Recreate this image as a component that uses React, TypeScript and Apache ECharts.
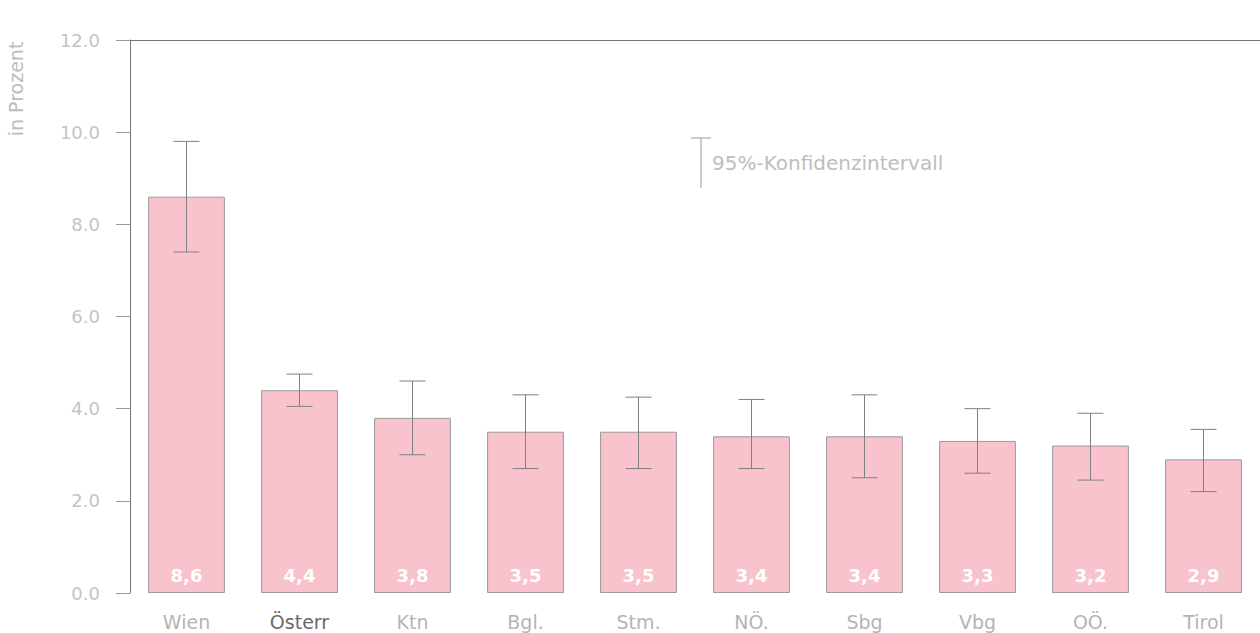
import React, { useEffect, useRef } from "react";
import * as echarts from "echarts";

const categories = ["Wien", "Österr", "Ktn", "Bgl.", "Stm.", "NÖ.", "Sbg", "Vbg", "OÖ.", "Tirol"];
const values = [8.6, 4.4, 3.8, 3.5, 3.5, 3.4, 3.4, 3.3, 3.2, 2.9];
const ciLow = [7.4, 4.05, 3.0, 2.7, 2.7, 2.7, 2.5, 2.6, 2.45, 2.2];
const ciHigh = [9.8, 4.75, 4.6, 4.3, 4.25, 4.2, 4.3, 4.0, 3.9, 3.55];
const yTicks = [0, 2, 4, 6, 8, 10, 12];
const legendText = "95%-Konfidenzintervall";
const yAxisName = "in Prozent";

export default function App() {
  const ref = useRef<HTMLDivElement>(null);
  useEffect(() => {
    document.body.style.margin = "0";
    const chart = echarts.init(ref.current!, null, { renderer: "svg" });
    const font = "'DejaVu Sans', 'Liberation Sans', sans-serif";
    chart.setOption({
      animation: false,
      backgroundColor: "#ffffff",
      textStyle: { fontFamily: font },
      grid: { left: 130, right: 0, top: 40, bottom: 40 },
      xAxis: [
        {
          type: "category",
          data: categories,
          axisLine: { show: false },
          axisTick: { show: false },
          axisLabel: {
            interval: 0,
            hideOverlap: false,
            margin: 19,
            fontSize: 19,
            color: "#b4b4b4",
            fontFamily: font,
            formatter: (v: string) => (v === "Österr" ? "{d|" + v + "}" : v),
            rich: { d: { color: "#6a6a6a", fontSize: 19, fontFamily: font } },
          },
        },
        {
          type: "category",
          position: "top",
          data: categories,
          axisLine: { show: true, lineStyle: { color: "#777", width: 1 } },
          axisTick: { show: false },
          axisLabel: { show: false },
        },
      ],
      yAxis: {
        type: "value",
        min: yTicks[0],
        max: yTicks[yTicks.length - 1],
        interval: 2,
        axisLine: { show: true, lineStyle: { color: "#777", width: 1 } },
        axisTick: { show: true, inside: false, length: 14, lineStyle: { color: "#999" } },
        axisLabel: {
          margin: 30,
          fontSize: 18,
          color: "#c4c4c4",
          fontFamily: font,
          formatter: (v: number) => v.toFixed(1),
        },
        splitLine: { show: false },
      },
      series: [
        {
          type: "bar",
          data: values,
          barWidth: "68%",
          itemStyle: { color: "#f8c3cd", borderColor: "#9a9a9a", borderWidth: 1 },
          label: {
            show: true,
            position: "insideBottom",
            distance: 9,
            color: "#ffffff",
            fontSize: 18,
            fontWeight: "bold",
            fontFamily: font,
            formatter: (p: any) => String(p.value.toFixed(1)).replace(".", ","),
          },
        },
        {
          type: "custom",
          data: categories.map((_, i) => [i, ciLow[i], ciHigh[i]]),
          renderItem: (params: any, api: any) => {
            const x = api.value(0);
            const lo = api.coord([x, api.value(1)]);
            const hi = api.coord([x, api.value(2)]);
            const hw = 13;
            const style = { stroke: "#808080", lineWidth: 1 };
            return {
              type: "group",
              children: [
                { type: "line", shape: { x1: lo[0], y1: lo[1], x2: hi[0], y2: hi[1] }, style },
                { type: "line", shape: { x1: hi[0] - hw, y1: hi[1], x2: hi[0] + hw, y2: hi[1] }, style },
                { type: "line", shape: { x1: lo[0] - hw, y1: lo[1], x2: lo[0] + hw, y2: lo[1] }, style },
              ],
            };
          },
          z: 5,
        },
      ],
      graphic: [
        {
          type: "text",
          x: 16,
          y: 89,
          rotation: Math.PI / 2,
          style: {
            text: yAxisName,
            fill: "#bdbdbd",
            fontSize: 19,
            fontFamily: font,
            textAlign: "center",
            textVerticalAlign: "middle",
          },
        },
        { type: "line", shape: { x1: 701, y1: 138, x2: 701, y2: 188 }, style: { stroke: "#999", lineWidth: 1 } },
        { type: "line", shape: { x1: 691, y1: 138, x2: 711, y2: 138 }, style: { stroke: "#999", lineWidth: 1 } },
        {
          type: "text",
          x: 712,
          y: 163,
          style: {
            text: legendText,
            fill: "#bdbdbd",
            fontSize: 20,
            fontFamily: font,
            textVerticalAlign: "middle",
          },
        },
      ],
    });
    return () => chart.dispose();
  }, []);
  return <div ref={ref} style={{ width: 1260, height: 633 }} />;
}
